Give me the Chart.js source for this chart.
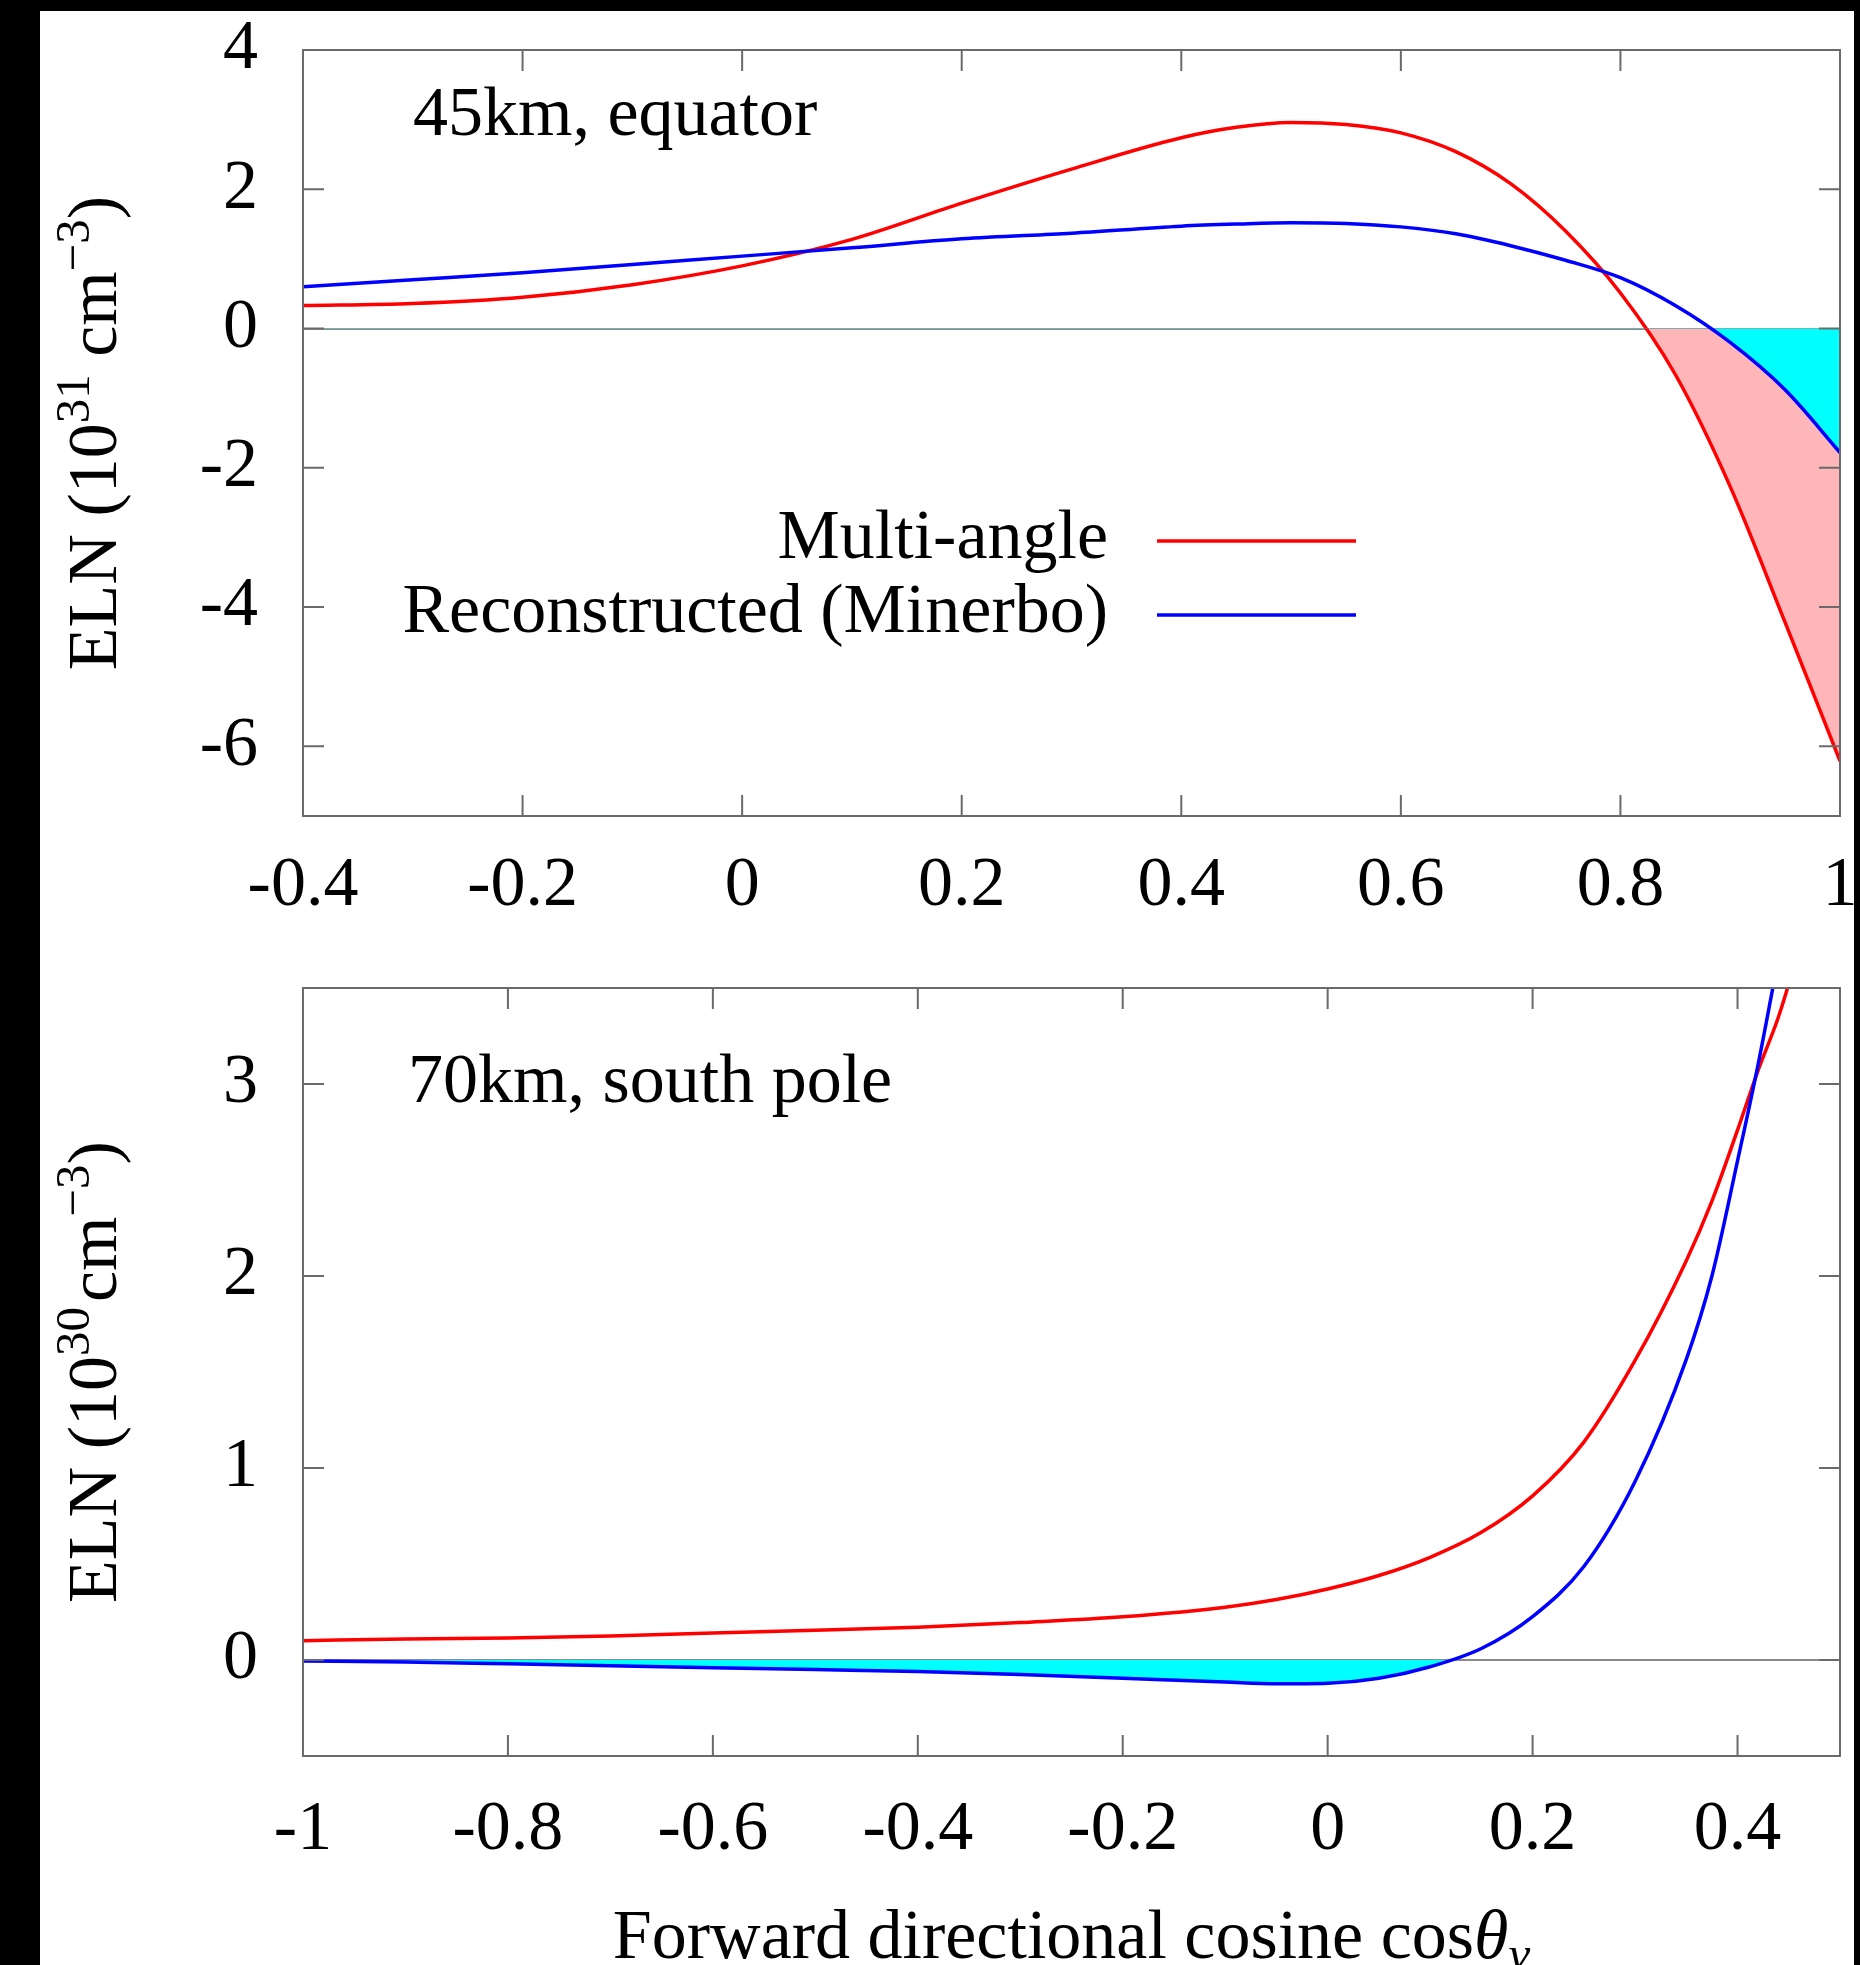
<!DOCTYPE html>
<html>
<head>
<meta charset="utf-8">
<script src="https://cdn.jsdelivr.net/npm/chart.js@4.4.1/dist/chart.umd.min.js"></script>
<style>
  body { margin: 0; background: #000; }
  #sheet { position: absolute; left: 40px; top: 11px; width: 1814px; height: 1954px; background: #fff; }
  canvas { position: absolute; left: 0; }
  #top { top: 0; }
  #bottom { top: 940px; }
</style>
</head>
<body>
<div id="sheet"></div>
<canvas id="top" width="1860" height="940"></canvas>
<canvas id="bottom" width="1860" height="1025"></canvas>
<script>
// 45 km, equator (units of 1e31 cm^-3)
const topCos = [-0.4, -0.3, -0.2, -0.1, 0, 0.1, 0.2, 0.3, 0.4, 0.45, 0.5, 0.55, 0.6, 0.65, 0.7, 0.75, 0.8, 0.85, 0.9, 0.95, 1.0];
const topMulti = [0.33, 0.36, 0.45, 0.63, 0.90, 1.28, 1.80, 2.29, 2.74, 2.89, 2.96, 2.93, 2.81, 2.54, 2.08, 1.40, 0.51, -0.66, -2.27, -4.22, -6.21];
const topMinerbo = [0.60, 0.70, 0.80, 0.92, 1.04, 1.16, 1.29, 1.37, 1.47, 1.50, 1.52, 1.51, 1.46, 1.36, 1.19, 0.98, 0.73, 0.33, -0.20, -0.88, -1.78];
const topXTicks = [-0.4, -0.2, 0, 0.2, 0.4, 0.6, 0.8, 1];
const topYTicks = [-6, -4, -2, 0, 2, 4];

// 70 km, south pole (units of 1e30 cm^-3)
const botCos = [-1, -0.9, -0.8, -0.7, -0.6, -0.5, -0.4, -0.3, -0.2, -0.1, -0.05, 0, 0.05, 0.1, 0.15, 0.2, 0.25, 0.3, 0.35, 0.375, 0.4, 0.42, 0.44, 0.46];
const botMulti = [0.10, 0.11, 0.115, 0.125, 0.14, 0.155, 0.17, 0.195, 0.225, 0.275, 0.315, 0.37, 0.44, 0.535, 0.665, 0.855, 1.135, 1.56, 2.08, 2.39, 2.76, 3.07, 3.35, 3.70];
const botMinerbo = [-0.005, -0.01, -0.02, -0.03, -0.04, -0.05, -0.06, -0.075, -0.095, -0.115, -0.124, -0.121, -0.095, -0.035, 0.06, 0.226, 0.487, 0.93, 1.566, 2.0, 2.6, 3.1, 3.66, 4.25];
const botXTicks = [-1, -0.8, -0.6, -0.4, -0.2, 0, 0.2, 0.4];
const botYTicks = [0, 1, 2, 3];

const FONT = '"Liberation Serif", "Times New Roman", serif';
const SIZE = 70;
const EDGE = '#6a6a6a';
const LINE_W = 3.5;

function fontFor(part, size) {
  const s = part.sup || part.sub ? Math.round(size * 0.7) : size;
  return (part.italic ? 'italic ' : '') + s + 'px ' + FONT;
}

// draws a run of text pieces (with super/subscripts) centred on x
function drawRich(ctx, parts, x, y, size) {
  let total = 0;
  parts.forEach(function (p) {
    ctx.font = fontFor(p, size);
    total += ctx.measureText(p.text).width + (p.gap || 0);
  });
  let cx = x - total / 2;
  parts.forEach(function (p) {
    ctx.font = fontFor(p, size);
    cx += p.gap || 0;
    const dy = p.sup ? -size * 0.38 : (p.sub ? size * 0.17 : 0);
    ctx.fillText(p.text, cx, y + dy);
    cx += ctx.measureText(p.text).width;
  });
}

function toPoints(xs, ys) {
  return xs.map(function (x, i) { return { x: x, y: ys[i] }; });
}

function fmt(v) {
  return String(Number(v.toFixed(1)));
}

// frame, inward ticks, captions and legend in gnuplot style
const panelPlugin = {
  id: 'panel',
  afterDatasetsDraw: function (chart, args, opts) {
    const ctx = chart.ctx;
    const a = chart.chartArea;
    const xs = chart.scales.x, ys = chart.scales.y;
    const tick = 21;
    ctx.save();
    ctx.strokeStyle = EDGE;
    ctx.lineWidth = 2;
    ctx.strokeRect(a.left, a.top, a.right - a.left, a.bottom - a.top);
    ctx.beginPath();
    xs.ticks.forEach(function (t) {
      const px = xs.getPixelForValue(t.value);
      if (px < a.left + 2 || px > a.right - 2) return;
      ctx.moveTo(px, a.bottom); ctx.lineTo(px, a.bottom - tick);
      ctx.moveTo(px, a.top); ctx.lineTo(px, a.top + tick);
    });
    ys.ticks.forEach(function (t) {
      const py = ys.getPixelForValue(t.value);
      if (py < a.top + 2 || py > a.bottom - 2) return;
      ctx.moveTo(a.left, py); ctx.lineTo(a.left + tick, py);
      ctx.moveTo(a.right, py); ctx.lineTo(a.right - tick, py);
    });
    ctx.stroke();

    ctx.fillStyle = '#000';
    ctx.textBaseline = 'alphabetic';
    ctx.textAlign = 'left';
    ctx.font = SIZE + 'px ' + FONT;
    ctx.fillText(opts.note, a.left + opts.noteX, a.top + opts.noteY);

    // rotated y title
    ctx.save();
    ctx.translate(116, (a.top + a.bottom) / 2);
    ctx.rotate(-Math.PI / 2);
    drawRich(ctx, opts.yTitle, 0, 0, SIZE);
    ctx.restore();

    if (opts.xTitle) {
      drawRich(ctx, opts.xTitle, (a.left + a.right) / 2, opts.xTitleY, SIZE);
    }

    if (opts.legend) {
      const items = chart.data.datasets.slice().reverse();
      items.forEach(function (ds, i) {
        const y = a.top + 491 + i * 74;
        ctx.textAlign = 'right';
        ctx.font = SIZE + 'px ' + FONT;
        ctx.fillText(ds.label, a.left + 805, y + 17);
        ctx.strokeStyle = ds.borderColor;
        ctx.lineWidth = LINE_W;
        ctx.beginPath();
        ctx.moveTo(a.left + 854, y);
        ctx.lineTo(a.left + 1053, y);
        ctx.stroke();
      });
    }
    ctx.restore();
  }
};

function makePanel(canvasId, cfg) {
  const tickFont = { family: FONT, size: SIZE, lineHeight: 1 };
  return new Chart(document.getElementById(canvasId).getContext('2d'), {
    type: 'line',
    data: {
      datasets: [
        {
          label: 'Reconstructed (Minerbo)',
          data: toPoints(cfg.cos, cfg.minerbo),
          borderColor: '#0000ff',
          borderWidth: LINE_W,
          pointRadius: 0,
          cubicInterpolationMode: 'monotone',
          clip: 0,
          fill: { target: { value: 0 }, above: 'transparent', below: '#00ffff' }
        },
        {
          label: 'Multi-angle',
          data: toPoints(cfg.cos, cfg.multi),
          borderColor: '#ff0000',
          borderWidth: LINE_W,
          pointRadius: 0,
          cubicInterpolationMode: 'monotone',
          clip: 0,
          fill: { target: { value: 0 }, above: 'transparent', below: '#ffb6b9' }
        }
      ]
    },
    options: {
      responsive: false,
      animation: false,
      devicePixelRatio: 1,
      layout: { padding: { left: 0, right: 20, top: cfg.padTop, bottom: 0 } },
      scales: {
        x: {
          type: 'linear',
          min: cfg.xMin,
          max: cfg.xMax,
          afterBuildTicks: function (s) { s.ticks = cfg.xTicks.map(function (v) { return { value: v }; }); },
          afterFit: function (s) { s.height = cfg.xHeight; s.paddingLeft = 0; s.paddingRight = 0; },
          ticks: { font: tickFont, color: '#000', padding: cfg.xPad, maxRotation: 0, autoSkip: false, callback: fmt },
          grid: { display: false, drawTicks: false },
          border: { display: false }
        },
        y: {
          type: 'linear',
          min: cfg.yMin,
          max: cfg.yMax,
          afterBuildTicks: function (s) { s.ticks = cfg.yTicks.map(function (v) { return { value: v }; }); },
          afterFit: function (s) { s.width = 303; s.paddingTop = 0; s.paddingBottom = 0; },
          ticks: { font: tickFont, color: '#000', padding: 45, autoSkip: false, callback: fmt },
          grid: {
            drawTicks: false,
            lineWidth: 2,
            color: function (c) { return c.tick && c.tick.value === 0 ? '#8a8a8a' : 'transparent'; }
          },
          border: { display: false }
        }
      },
      plugins: {
        legend: { display: false },
        tooltip: { enabled: false },
        panel: cfg.panel
      }
    },
    plugins: [panelPlugin]
  });
}

document.addEventListener('DOMContentLoaded', function () {
  makePanel('top', {
    cos: topCos, multi: topMulti, minerbo: topMinerbo,
    xMin: -0.4, xMax: 1, yMin: -7, yMax: 4,
    xTicks: topXTicks, yTicks: topYTicks,
    padTop: 50, xHeight: 124, xPad: 36,
    panel: {
      note: '45km, equator', noteX: 110, noteY: 85,
      legend: true,
      yTitle: [{ text: 'ELN (10' }, { text: '31', sup: true }, { text: ' cm' }, { text: '\u22123', sup: true }, { text: ')' }]
    }
  });

  makePanel('bottom', {
    cos: botCos, multi: botMulti, minerbo: botMinerbo,
    xMin: -1, xMax: 0.5, yMin: -0.5, yMax: 3.5,
    xTicks: botXTicks, yTicks: botYTicks,
    padTop: 48, xHeight: 209, xPad: 40,
    panel: {
      note: '70km, south pole', noteX: 105, noteY: 114,
      legend: false,
      yTitle: [{ text: 'ELN (10' }, { text: '30', sup: true }, { text: 'cm', gap: 5 }, { text: '\u22123', sup: true }, { text: ')' }],
      xTitle: [{ text: 'Forward directional cosine cos' }, { text: '\u03b8', italic: true }, { text: '\u03bd', italic: true, sub: true }],
      xTitleY: 1018
    }
  });
});
</script>
</body>
</html>
